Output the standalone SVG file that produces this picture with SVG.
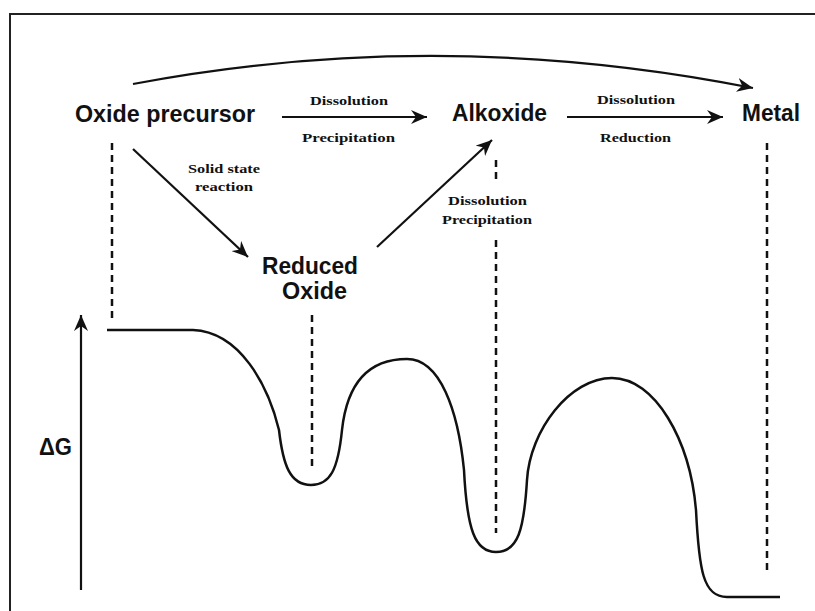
<svg xmlns="http://www.w3.org/2000/svg" width="815" height="611" viewBox="0 0 815 611">
<defs>
<style>
.node{font-family:"Liberation Sans",Arial,sans-serif;font-weight:bold;font-size:23px;fill:#111}
.lbl{font-family:"Liberation Serif","Times New Roman",serif;font-weight:bold;font-size:13px;fill:#111}
.arr{fill:none;stroke:#111;stroke-width:2.2}
.dash{fill:none;stroke:#111;stroke-width:2.5;stroke-dasharray:7 5}
</style>
<marker id="ah" markerWidth="18" markerHeight="14" refX="16" refY="7" orient="auto" markerUnits="userSpaceOnUse">
<path d="M0,0 L16,7 L0,14 L5,7 z" fill="#111"/>
</marker>
</defs>
<rect width="815" height="611" fill="#fff"/>
<path d="M10,611 L10,14 L815,14" fill="none" stroke="#222" stroke-width="2"/>

<g id="oxide-precursor"><text class="node" x="75" y="122" textLength="180" lengthAdjust="spacingAndGlyphs">Oxide precursor</text></g>
<g id="alkoxide"><text class="node" x="452" y="121" textLength="95" lengthAdjust="spacingAndGlyphs">Alkoxide</text></g>
<g id="metal"><text class="node" x="742" y="121" textLength="58" lengthAdjust="spacingAndGlyphs">Metal</text></g>
<g id="reduced-oxide"><text class="node" x="262" y="274" font-size="22" textLength="96" lengthAdjust="spacingAndGlyphs">Reduced</text><text class="node" x="282" y="299" font-size="22" textLength="65" lengthAdjust="spacingAndGlyphs">Oxide</text></g>

<g id="connectors">
<path class="arr" d="M133,84 Q440,26 753,88" marker-end="url(#ah)"/>
<line class="arr" x1="282" y1="117" x2="427" y2="117" marker-end="url(#ah)"/>
<line class="arr" x1="567" y1="117" x2="723" y2="117" marker-end="url(#ah)"/>
<line class="arr" x1="133" y1="149" x2="248" y2="257" marker-end="url(#ah)"/>
<line class="arr" x1="377" y1="247" x2="492" y2="140" marker-end="url(#ah)"/>
<text class="lbl" x="310" y="105" textLength="78" lengthAdjust="spacingAndGlyphs">Dissolution</text>
<text class="lbl" x="302" y="142" textLength="93" lengthAdjust="spacingAndGlyphs">Precipitation</text>
<text class="lbl" x="597" y="104" textLength="78" lengthAdjust="spacingAndGlyphs">Dissolution</text>
<text class="lbl" x="600" y="142" textLength="71" lengthAdjust="spacingAndGlyphs">Reduction</text>
<text class="lbl" x="188" y="173" textLength="72" lengthAdjust="spacingAndGlyphs">Solid state</text>
<text class="lbl" x="195" y="191" textLength="58" lengthAdjust="spacingAndGlyphs">reaction</text>
<text class="lbl" x="448" y="205" textLength="79" lengthAdjust="spacingAndGlyphs">Dissolution</text>
<text class="lbl" x="442" y="224" textLength="90" lengthAdjust="spacingAndGlyphs">Precipitation</text>
</g>

<g id="guides">
<line class="dash" x1="112" y1="143" x2="112" y2="320"/>
<line class="dash" x1="312" y1="315" x2="312" y2="467"/>
<line class="dash" x1="496" y1="160" x2="496" y2="184"/>
<line class="dash" x1="496" y1="240" x2="496" y2="533"/>
<line class="dash" x1="767" y1="143" x2="767" y2="575"/>
</g>

<g id="axis">
<line class="arr" x1="81" y1="590" x2="81" y2="315" marker-end="url(#ah)"/>
<text class="node" x="39" y="455" font-size="18" textLength="33" lengthAdjust="spacingAndGlyphs">ΔG</text>
</g>

<g id="energy-curve">
<path fill="none" stroke="#111" stroke-width="2.5" d="M107,330 L193,330 C240,332 268,385 279,430 C283,465 290,485 311,485 C330,485 338,470 342,430 C348,375 375,359 407,359 C440,359 458,410 464,470 C467,530 475,552 496,552 C518,552 524,530 527,480 C530,430 570,378 612,378 C655,378 690,440 696,510 C699,570 703,597 727,597 L780,597"/>
</g>
</svg>
